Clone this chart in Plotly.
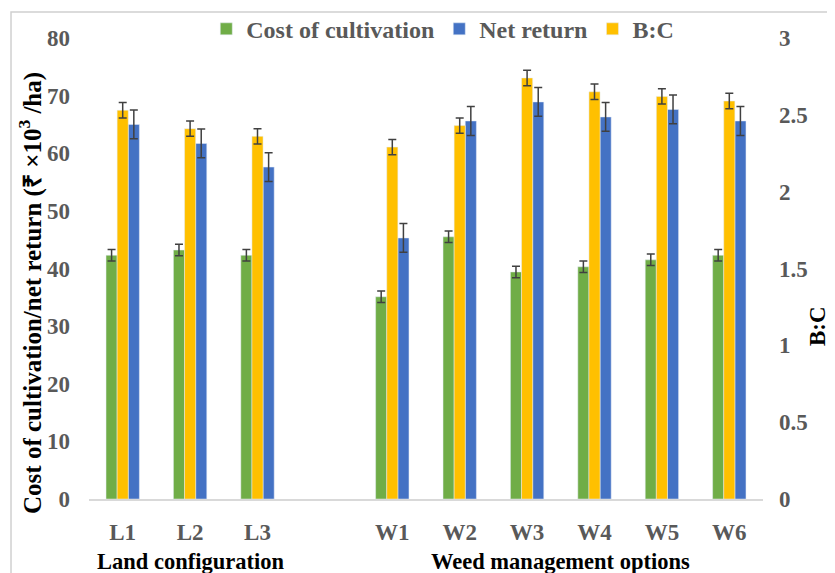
import plotly.graph_objects as go

categories = ["L1", "L2", "L3", " ", "W1", "W2", "W3", "W4", "W5", "W6"]
cost = [42.3, 43.2, 42.3, None, 35.1, 45.5, 39.4, 40.3, 41.5, 42.3]
net_return = [65.0, 61.7, 57.6, None, 45.3, 65.6, 68.9, 66.3, 67.6, 65.6]
bc = [2.53, 2.41, 2.36, None, 2.29, 2.43, 2.74, 2.65, 2.62, 2.59]
cost_err = [1.0, 1.0, 1.0, None, 1.0, 1.0, 1.0, 1.0, 1.0, 1.0]
net_err = [2.5, 2.5, 2.5, None, 2.5, 2.5, 2.5, 2.5, 2.5, 2.5]
bc_err = [0.05, 0.05, 0.05, None, 0.05, 0.05, 0.05, 0.05, 0.05, 0.05]

left_ticks = [0, 10, 20, 30, 40, 50, 60, 70, 80]
right_ticks = [0, 0.5, 1, 1.5, 2, 2.5, 3]
right_tick_text = ["0", "0.5", "1", "1.5", "2", "2.5", "3"]

FONT = "Liberation Serif"
GRAY = "#595959"
BW = 0.165

err_style = dict(type="data", visible=True, color="#404040", thickness=1.5, width=4)

fig = go.Figure()
fig.add_trace(go.Bar(
    x=categories, y=cost, name="Cost of cultivation", marker_color="#70AD47",
    width=BW, offset=-1.5 * BW, error_y=dict(array=cost_err, **err_style), yaxis="y"))
fig.add_trace(go.Bar(
    x=categories, y=net_return, name="Net return", marker_color="#4472C4",
    width=BW, offset=0.5 * BW, error_y=dict(array=net_err, **err_style), yaxis="y"))
fig.add_trace(go.Bar(
    x=categories, y=bc, name="B:C", marker_color="#FFC000",
    width=BW, offset=-0.5 * BW, error_y=dict(array=bc_err, **err_style), yaxis="y2"))

fig.update_layout(
    width=835, height=573,
    margin=dict(l=81, r=80, t=30, b=82, autoexpand=False),
    paper_bgcolor="white", plot_bgcolor="white",
    barmode="overlay",
    font=dict(family=FONT, size=23, color=GRAY, weight="bold"),
    xaxis=dict(
        type="category", categoryorder="array", categoryarray=categories,
        showline=True, linecolor="#d9d9d9", linewidth=1.5, ticks="",
        tickfont=dict(family=FONT, size=23, color=GRAY, weight="bold"),
        ticklabelstandoff=12, showgrid=False, zeroline=False),
    yaxis=dict(
        range=[0, 80], tickvals=left_ticks, showgrid=False, zeroline=False,
        showline=False, ticks="", ticklabelstandoff=18,
        tickfont=dict(family=FONT, size=23, color=GRAY, weight="bold")),
    yaxis2=dict(
        range=[0, 3], tickvals=right_ticks, ticktext=right_tick_text,
        overlaying="y", side="right", showgrid=False, zeroline=False,
        showline=False, ticks="", ticklabelstandoff=15,
        tickfont=dict(family=FONT, size=23, color=GRAY, weight="bold")),
    legend=dict(
        orientation="h", x=0.174, y=1.019, xanchor="left", yanchor="middle",
        font=dict(family=FONT, size=24, color=GRAY, weight="bold"),
        bgcolor="rgba(0,0,0,0)", traceorder="normal"),
    showlegend=True,
    annotations=[
        dict(text="Cost of cultivation/net return (₹ ×10<sup>3</sup> /ha)", textangle=-90,
             xref="paper", yref="paper", x=-0.086, y=0.447, xanchor="center", yanchor="middle",
             showarrow=False, font=dict(family=FONT, size=25, color="black", weight="bold")),
        dict(text="B:C", textangle=-90,
             xref="paper", yref="paper", x=1.08, y=0.375, xanchor="center", yanchor="middle",
             showarrow=False, font=dict(family=FONT, size=23, color="black", weight="bold")),
        dict(text="Land configuration", xref="x", yref="paper", x="L2", y=-0.1345,
             xanchor="center", yanchor="middle", showarrow=False,
             font=dict(family=FONT, size=22.5, color="black", weight="bold")),
        dict(text="Weed management options", xref="x", yref="paper", x=6.5, y=-0.1345,
             xanchor="center", yanchor="middle", showarrow=False,
             font=dict(family=FONT, size=22.5, color="black", weight="bold")),
    ],
    shapes=[
        dict(type="rect", xref="paper", yref="paper", x0=-0.1157, x1=1.2, y0=-0.3, y1=1.0564,
             line=dict(color="#d0d0d0", width=1.5), fillcolor="rgba(0,0,0,0)", layer="above"),
    ],
)

fig.write_html("out.html")
